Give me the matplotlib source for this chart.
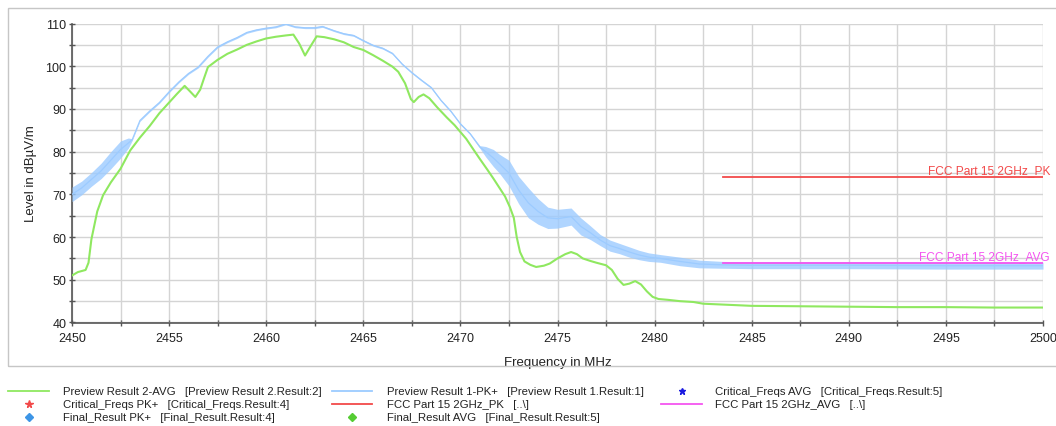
import numpy as np
import matplotlib.pyplot as plt
from matplotlib.lines import Line2D
from matplotlib.patches import Rectangle
from matplotlib.transforms import blended_transform_factory

plt.rcParams['font.family'] = ['Liberation Sans', 'DejaVu Sans']

# Preview Result 1-PK+ : centre of trace and half width of its noise band (dB)
pk_freq = [2450.0, 2450.5, 2451.0, 2451.5, 2452.0, 2452.5, 2452.9, 2453.1, 2453.5, 2454.0,
           2454.5, 2455.0, 2455.5, 2456.0, 2456.5, 2457.0, 2457.5, 2458.0, 2458.5, 2459.0,
           2459.5, 2460.0, 2460.5, 2461.0, 2461.5, 2462.0, 2462.5, 2462.9, 2463.5, 2464.0,
           2464.5, 2465.0, 2465.5, 2466.0, 2466.5, 2467.0, 2467.5, 2468.0, 2468.5, 2469.0,
           2469.5, 2470.0, 2470.5, 2471.0, 2471.3, 2471.7, 2472.0, 2472.5, 2473.0, 2473.5,
           2474.0, 2474.5, 2475.0, 2475.7, 2476.2, 2476.7, 2477.2, 2477.7, 2478.2, 2478.7,
           2479.2, 2479.7, 2480.3, 2481.3, 2482.3, 2483.5, 2485.0, 2490.0, 2495.0, 2500.0]
pk_level = [70.0, 71.5, 73.5, 75.5, 78.0, 80.5, 82.0, 82.8, 87.3, 89.5,
            91.5, 94.0, 96.3, 98.3, 99.8, 102.3, 104.5, 105.7, 106.7, 107.9,
            108.5, 108.9, 109.2, 109.9, 109.2, 109.0, 109.0, 109.3, 108.3, 107.6,
            107.2, 106.0, 104.9, 104.2, 103.0, 100.5, 98.5, 96.7, 95.0, 92.0,
            89.5, 86.5, 84.2, 81.1, 80.0, 78.5, 77.2, 75.0, 71.0, 68.0,
            66.0, 64.5, 64.3, 64.8, 62.5, 61.0, 59.3, 58.0, 57.3, 56.5,
            55.8, 55.3, 55.0, 54.3, 53.7, 53.5, 53.4, 53.4, 53.3, 53.3]
pk_spread = [1.7, 1.6, 1.6, 1.8, 2.0, 2.0, 1.2, 0.2, 0.2, 0.2,
             0.2, 0.2, 0.2, 0.2, 0.2, 0.2, 0.2, 0.2, 0.2, 0.2,
             0.2, 0.2, 0.2, 0.2, 0.2, 0.2, 0.2, 0.2, 0.2, 0.2,
             0.2, 0.2, 0.2, 0.2, 0.2, 0.2, 0.2, 0.2, 0.2, 0.2,
             0.2, 0.2, 0.2, 0.3, 1.2, 2.0, 2.2, 3.0, 3.2, 3.5,
             3.0, 2.5, 2.2, 2.0, 2.0, 1.6, 1.3, 1.3, 1.2, 1.2,
             1.1, 1.0, 0.9, 1.0, 0.9, 0.8, 0.8, 0.8, 0.8, 0.8]

# Preview Result 2-AVG
avg_freq = [2450.0, 2450.3, 2450.7, 2450.85, 2451.0, 2451.3, 2451.6, 2452.0, 2452.5, 2453.0,
            2453.5, 2454.0, 2454.5, 2455.0, 2455.4, 2455.8, 2456.1, 2456.35, 2456.6, 2456.8,
            2457.0, 2457.5, 2458.0, 2458.5, 2459.0, 2459.5, 2460.0, 2460.5, 2461.0, 2461.4,
            2461.7, 2462.0, 2462.3, 2462.6, 2463.0, 2463.5, 2464.0, 2464.5, 2465.0, 2465.5,
            2466.0, 2466.5, 2466.8, 2467.15, 2467.45, 2467.6, 2467.85, 2468.1, 2468.4, 2468.8,
            2469.3, 2469.7, 2470.0, 2470.3, 2470.7, 2471.0, 2471.4, 2471.7, 2472.0, 2472.3,
            2472.55, 2472.75, 2472.9, 2473.07, 2473.3, 2473.6, 2473.9, 2474.3, 2474.6, 2475.0,
            2475.4, 2475.7, 2476.0, 2476.3, 2476.7, 2477.0, 2477.5, 2477.8, 2478.1, 2478.4,
            2478.7, 2479.0, 2479.3, 2479.6, 2479.9, 2480.2, 2480.7, 2481.3, 2482.0, 2482.5,
            2483.5, 2485.0, 2487.5, 2490.0, 2492.5, 2495.0, 2497.5, 2500.0]
avg_level = [51.0, 51.8, 52.3, 54.0, 59.5, 66.0, 69.8, 72.8, 76.0, 80.3,
             83.3, 86.0, 89.0, 91.5, 93.5, 95.4, 94.0, 92.8, 94.5, 97.2,
             99.8, 101.5, 102.9, 103.9, 105.0, 105.8, 106.5, 106.9, 107.2, 107.4,
             105.3, 102.5, 104.8, 107.0, 106.8, 106.3, 105.6, 104.5, 103.8, 102.6,
             101.3, 99.9, 98.7, 96.0, 92.3, 91.6, 92.8, 93.4, 92.5, 90.4,
             88.0, 86.2, 84.6, 83.0, 80.3, 78.3, 75.7, 73.7, 71.6, 69.5,
             67.0, 64.5, 60.0, 56.5, 54.3, 53.5, 53.0, 53.3, 53.8, 55.0,
             56.0, 56.5, 56.0, 55.0, 54.4, 54.0, 53.4, 52.3, 50.2, 48.8,
             49.1, 49.7, 48.9, 47.3, 46.0, 45.5, 45.3, 45.0, 44.8, 44.4,
             44.2, 43.9, 43.8, 43.7, 43.6, 43.6, 43.5, 43.5]

# limit lines
fcc_pk_freq = [2483.5, 2500.0]
fcc_pk_level = [74.0, 74.0]
fcc_avg_freq = [2483.5, 2500.0]
fcc_avg_level = [54.0, 54.0]

legend_labels = [
    ['Preview Result 2-AVG   [Preview Result 2.Result:2]',
     'Critical_Freqs PK+   [Critical_Freqs.Result:4]',
     'Final_Result PK+   [Final_Result.Result:4]'],
    ['Preview Result 1-PK+   [Preview Result 1.Result:1]',
     'FCC Part 15 2GHz_PK   [..\\]',
     'Final_Result AVG   [Final_Result.Result:5]'],
    ['Critical_Freqs AVG   [Critical_Freqs.Result:5]',
     'FCC Part 15 2GHz_AVG   [..\\]'],
]

c_avg = '#8fe860'
c_pk = '#9ccbff'
c_red = '#f24a4a'
c_mag = '#f455f0'

W, H = 1056, 427
fig = plt.figure(figsize=(W / 100, H / 100), dpi=100)


def fx(px):
    return px / W


def fy(py):
    return 1 - py / H


# outer frame
fig.add_artist(Rectangle((fx(8), fy(367)), 1.1, (367 - 9) / H, transform=fig.transFigure,
                         fill=False, ec='#c6c6c6', lw=1.0))

ax = fig.add_axes([fx(72), fy(323.5), 971 / W, 299 / H])

pk_lo = np.array(pk_level) - np.array(pk_spread)
pk_hi = np.array(pk_level) + np.array(pk_spread)
ax.fill_between(pk_freq, pk_lo, pk_hi, color=c_pk, lw=0, alpha=0.8, zorder=3)
ax.plot(pk_freq, pk_level, color=c_pk, lw=0.9, zorder=3)
ax.plot(avg_freq, avg_level, color=c_avg, lw=1.5, zorder=4)
ax.plot(fcc_pk_freq, fcc_pk_level, color=c_red, lw=1.3, zorder=5)
ax.plot(fcc_avg_freq, fcc_avg_level, color=c_mag, lw=1.3, zorder=5)

tr = blended_transform_factory(ax.transAxes, ax.transData)
ax.text(1.0075, fcc_pk_level[0] + 0.2, 'FCC Part 15 2GHz_PK', transform=tr, ha='right',
        va='bottom', color=c_red, fontsize=8.6, clip_on=False)
ax.text(1.0065, fcc_avg_level[0] + 0.2, 'FCC Part 15 2GHz_AVG', transform=tr, ha='right',
        va='bottom', color=c_mag, fontsize=8.6, clip_on=False)

ax.set_xlim(2450, 2500)
ax.set_ylim(40, 110)
ax.set_xticks(np.arange(2450, 2501, 2.5))
ax.set_xticklabels([str(int(v)) if v % 5 == 0 else '' for v in np.arange(2450, 2501, 2.5)])
ax.set_yticks(np.arange(40, 111, 5))
ax.set_yticklabels([str(int(v)) if v % 10 == 0 else '' for v in np.arange(40, 111, 5)])
ax.grid(True, color='#d4d4d4', lw=1.0, zorder=0)
ax.set_axisbelow(True)
for s in ['top', 'right']:
    ax.spines[s].set_visible(False)
for s in ['left', 'bottom']:
    ax.spines[s].set_color('#555555')
    ax.spines[s].set_linewidth(1.2)
ax.tick_params(direction='inout', length=5, width=1.0, color='#555555',
               labelsize=9, labelcolor='#222222')
ax.tick_params(axis='x', pad=4)
ax.tick_params(axis='y', pad=1.5)
ax.set_xlabel('Frequency in MHz', fontsize=9.5, color='#222222', labelpad=9)
ax.set_ylabel('Level in dB\u00b5V/m', fontsize=9.5, color='#222222', labelpad=6)

# legend drawn by hand in three fixed columns
col_line = [(8, 49), (332, 372), (661, 702)]
col_text = [63, 387, 715]
rows = [391.7, 405.0, 418.3]
handles = [
    [('line', c_avg), ('marker', '*', c_red, 5.5), ('marker', 'D', '#3d95e6', 4.5)],
    [('line', c_pk), ('line', c_red), ('marker', 'D', '#55cc33', 4.5)],
    [('marker', '*', '#1a1ae0', 5), ('line', c_mag)],
]
for ci in range(3):
    x0, x1 = col_line[ci]
    for ri, lab in enumerate(legend_labels[ci]):
        h = handles[ci][ri]
        if h[0] == 'line':
            fig.add_artist(Line2D([fx(x0), fx(x1)], [fy(rows[ri])] * 2, color=h[1], lw=1.3,
                                  transform=fig.transFigure))
        else:
            fig.add_artist(Line2D([fx((x0 + x1) / 2)], [fy(rows[ri])], marker=h[1], color=h[2],
                                  markersize=h[3], lw=0, transform=fig.transFigure))
        fig.text(fx(col_text[ci]), fy(rows[ri]), lab, fontsize=8.2, color='#222222', va='center')

fig.savefig('out.png', dpi=100)
